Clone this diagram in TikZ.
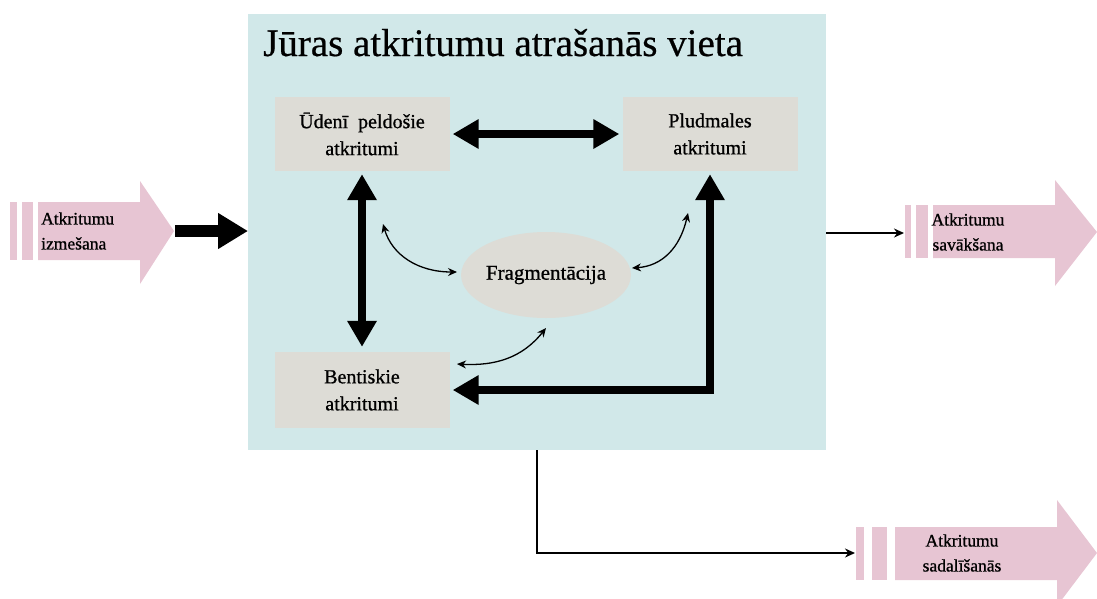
\documentclass[tikz,border=0pt]{standalone}
\usepackage{fontspec}
\setmainfont{Liberation Serif}
\newfontfamily\labelfont[FakeBold=0.8]{Liberation Serif}
\newfontfamily\titlefont[FakeBold=0.5]{Liberation Serif}
\usetikzlibrary{arrows.meta,shapes.geometric}
\definecolor{seablue}{HTML}{D1E8E9}
\definecolor{boxgray}{HTML}{DDDCD6}
\definecolor{pinkarr}{HTML}{E7C5D3}
\begin{document}
\begin{tikzpicture}[x=1pt,y=-1pt,
  graybox/.style={fill=boxgray, minimum width=175pt, minimum height=74pt, inner sep=0pt, align=center, font=\labelfont\fontsize{20}{27}\selectfont},
  fragbox/.style={ellipse, fill=boxgray, minimum width=164pt, minimum height=86pt, inner sep=0pt, font=\labelfont\fontsize{21}{24}\selectfont},
  heavy/.style={line width=7.5pt, {Triangle[length=26pt,width=28pt]}-{Triangle[length=26pt,width=28pt]}},
  thinarr/.style={line width=1.3pt, {Stealth[length=9pt,width=8pt]}-{Stealth[length=9pt,width=8pt]}},
  flow/.style={line width=1.8pt, -{Stealth[length=10pt,width=9pt]}},
  pinktext/.style={font=\labelfont\fontsize{17.5}{25}\selectfont, inner sep=0pt},
  pinkfill/.style={fill=pinkarr, draw=none},
]
\useasboundingbox (0,0) rectangle (1097,598);
\clip (0,0) rectangle (1097,598);

% main area
\node[fill=seablue, minimum width=578pt, minimum height=436pt, inner sep=0pt, anchor=north west] (sea) at (248,14) {};
\node[anchor=base west, inner sep=0pt, font=\titlefont\fontsize{39}{44}\selectfont] (title) at (263,56) {Jūras atkritumu atrašanās vieta};

\node[graybox] (float) at (362,134) {Ūdenī~ peldošie\\atkritumi};
\node[graybox] (beach) at (710,134) {Pludmales\\atkritumi};
\node[graybox, minimum height=76pt] (benthic) at (362,390) {Bentiskie\\atkritumi};
\node[fragbox] (frag) at (546,275) {Fragmentācija};

% heavy arrows
\draw[heavy, shorten <=3pt, shorten >=3pt] (float.east) -- (beach.west);
\draw[heavy, shorten <=3pt, shorten >=5pt] (float.south) -- (benthic.north);
\draw[heavy, shorten <=3pt, shorten >=3pt] (benthic.east) -- (beach.south |- benthic.east) -- (beach.south);

% thin curved arrows
\coordinate (a1s) at (383,224);
\coordinate (a1e) at (457,272);
\coordinate (a2s) at (632,268);
\coordinate (a2e) at (688,213);
\coordinate (a3s) at (457,364);
\coordinate (a3e) at (546,328);
\draw[thinarr] (a1s) .. controls (392,255) and (418,272) .. (a1e);
\draw[thinarr] (a2s) .. controls (662,266) and (680,248) .. (a2e);
\draw[thinarr] (a3s) .. controls (495,366) and (522,358) .. (a3e);

% left pink arrow: dumping
\fill[pinkfill] (10,202) rectangle (17,260);
\fill[pinkfill] (22,202) rectangle (33,260);
\fill[pinkfill] (38,202) -- (140,202) -- (140,181) -- (174,231) -- (140,284) -- (140,260) -- (38,260) -- cycle;
\node[pinktext, anchor=west, align=left] (dump) at (41,231) {Atkritumu\\izmešana};
\coordinate (dumptip) at (175,231);
\draw[line width=12pt, -{Triangle[length=30pt,width=34pt]}] (dumptip) -- (sea.west |- dumptip);

% right pink arrow: collection
\fill[pinkfill] (905,205) rectangle (911,258);
\fill[pinkfill] (916,205) rectangle (928,258);
\fill[pinkfill] (933,205) -- (1055,205) -- (1055,180) -- (1097,232) -- (1055,286) -- (1055,258) -- (933,258) -- cycle;
\node[pinktext, align=center] (coll) at (968,232) {Atkritumu\\savākšana};
\coordinate (colltail) at (904,233);
\draw[flow] (sea.east |- colltail) -- (colltail);

% bottom pink arrow: degradation
\fill[pinkfill] (856,527) rectangle (864,580);
\fill[pinkfill] (872,527) rectangle (887,580);
\fill[pinkfill] (895,527) -- (1057,527) -- (1057,500) -- (1097,553) -- (1057,606) -- (1057,580) -- (895,580) -- cycle;
\node[pinktext, align=center] (deg) at (962,553) {Atkritumu\\sadalīšanās};
\coordinate (degtail) at (855,553);
\draw[flow] (sea.south) -- (sea.south |- degtail) -- (degtail);
\end{tikzpicture}
\end{document}
